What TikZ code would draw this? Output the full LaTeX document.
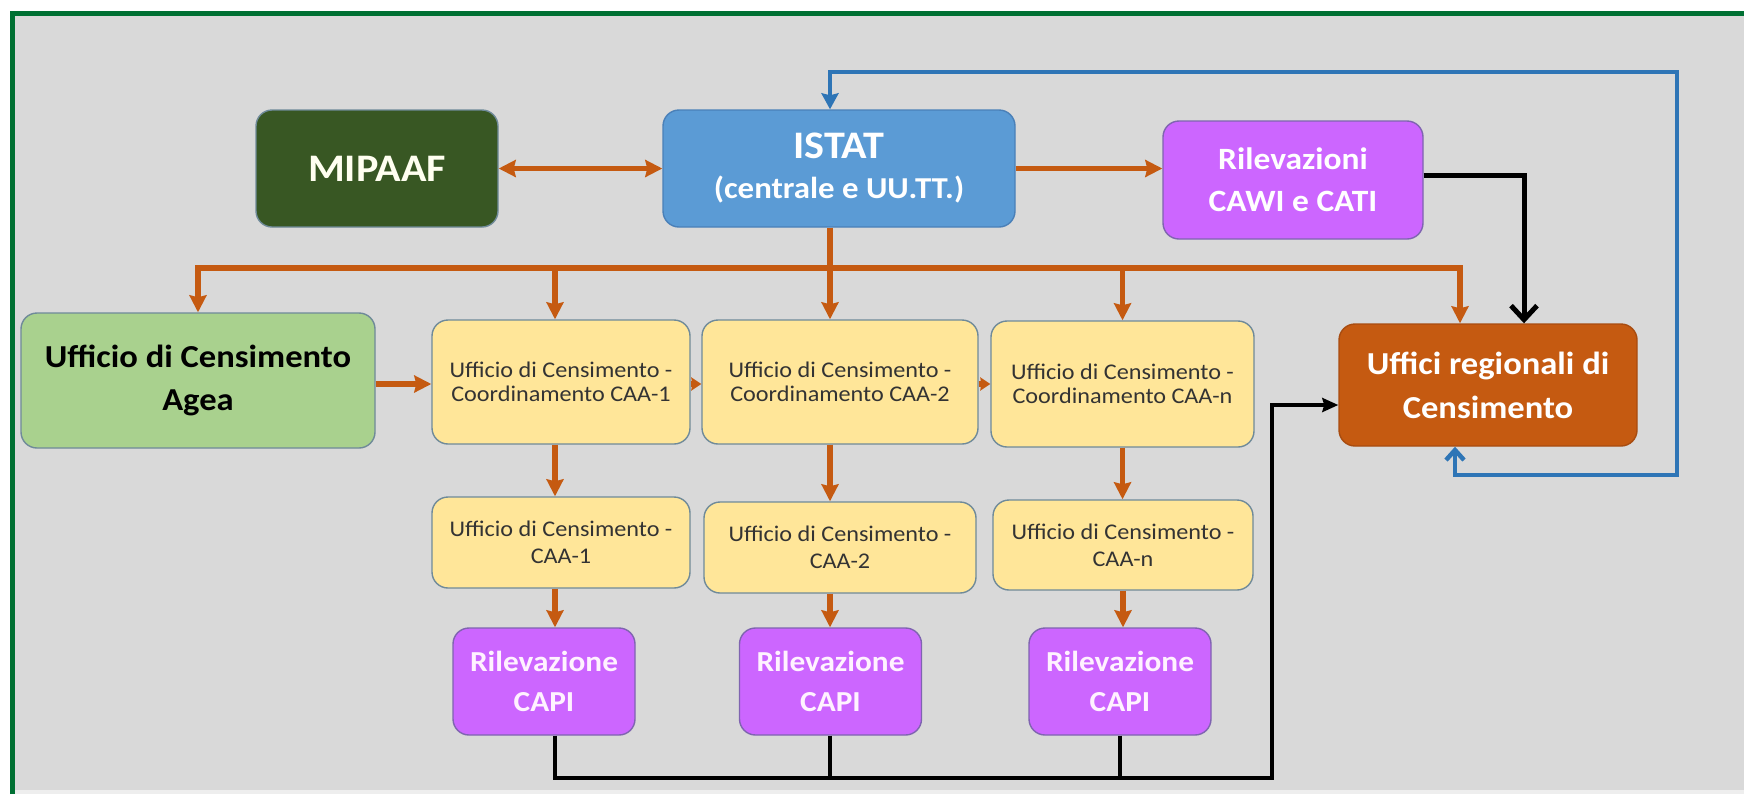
\documentclass[tikz,border=0pt]{standalone}
\usepackage{fontspec}
\setmainfont{Carlito}[FakeStretch=1.08]
\usetikzlibrary{arrows.meta}
\definecolor{bgc}{HTML}{D9D9D9}
\definecolor{frameg}{HTML}{007033}
\definecolor{mipc}{HTML}{385723}
\definecolor{istc}{HTML}{5B9BD5}
\definecolor{istb}{HTML}{4A80B8}
\definecolor{violc}{HTML}{CC66FF}
\definecolor{violb}{HTML}{7F64B0}
\definecolor{regc}{HTML}{C55A11}
\definecolor{regb}{HTML}{A84C10}
\definecolor{agc}{HTML}{A9D18E}
\definecolor{yelc}{HTML}{FFE699}
\definecolor{bordc}{HTML}{6F8A99}
\definecolor{orc}{HTML}{C55A11}
\definecolor{bluel}{HTML}{2E75B6}
\definecolor{txtg}{HTML}{333333}
\definecolor{cream}{HTML}{FFFFF0}
\definecolor{pinkw}{HTML}{FFF2FF}
\begin{document}
\begin{tikzpicture}[x=0.5pt,y=-0.5pt,
  box/.style={rounded corners=8pt, draw=bordc, line width=0.7pt, align=center, inner sep=0pt},
  mipbox/.style={box, fill=mipc, text=cream, font=\fontsize{19.5}{22}\selectfont\bfseries},
  istbox/.style={box, fill=istc, draw=istb, text=white, font=\fontsize{15.2}{20}\selectfont\bfseries},
  violbox/.style={box, fill=violc, draw=violb, text=white, font=\fontsize{15.5}{21}\selectfont\bfseries},
  capibox/.style={box, fill=violc, draw=violb, text=pinkw, font=\fontsize{14.5}{20}\selectfont\bfseries, minimum width=91pt, minimum height=53.5pt},
  regbox/.style={box, fill=regc, draw=regb, text=white, font=\fontsize{16}{22}\selectfont\bfseries},
  agbox/.style={box, fill=agc, text=black, font=\fontsize{16}{21.5}\selectfont\bfseries},
  coordbox/.style={box, fill=yelc, text=txtg, font=\fontsize{11.2}{11.8}\selectfont},
  caabox/.style={box, fill=yelc, text=txtg, font=\fontsize{11.2}{13.5}\selectfont},
  oline/.style={draw=orc, line width=2.75pt},
  oarr/.style={oline, -{Stealth[length=8.5pt,width=8.5pt,inset=1pt]}},
  osmall/.style={oline, -{Stealth[length=5pt,width=6.5pt,inset=0.5pt]}},
  bline/.style={draw=bluel, line width=2.25pt},
  kline/.style={draw=black, line width=2.5pt},
  kthin/.style={draw=black, line width=1.75pt}
]
\useasboundingbox (0,0) rectangle (1744,794);
% background and frame
\fill[white] (0,0) rectangle (1744,794);
\fill[bgc] (15,16) rectangle (1744,790);
\fill[bgc!45!white] (15,790) rectangle (1744,794);
\draw[frameg, line width=2.75pt] (12.5,794) -- (12.5,13.5) -- (1744,13.5);

% nodes
\node[mipbox, minimum width=121pt, minimum height=58.5pt] (mipaaf) at (377,168.5) {MIPAAF};
\node[istbox, minimum width=176pt, minimum height=58.5pt] (istat) at (839,168.5)
  {{\fontsize{19.5}{20}\selectfont ISTAT}\\(centrale e UU.TT.)};
\node[violbox, minimum width=130pt, minimum height=59pt] (cawi) at (1293,180) {Rilevazioni\\CAWI e CATI};
\node[agbox, minimum width=177pt, minimum height=67.5pt] (agea) at (198,380.5) {Ufficio di Censimento\\Agea};
\node[coordbox, minimum width=129pt, minimum height=62pt] (c1) at (561,382) {Ufficio di Censimento -\\Coordinamento CAA-1};
\node[coordbox, minimum width=138pt, minimum height=62pt] (c2) at (840,382) {Ufficio di Censimento -\\Coordinamento CAA-2};
\node[coordbox, minimum width=131.5pt, minimum height=63pt] (cn) at (1122.5,384) {Ufficio di Censimento -\\Coordinamento CAA-n};
\node[regbox, minimum width=149pt, minimum height=61pt] (reg) at (1488,385) {Uffici regionali di\\Censimento};
\node[caabox, minimum width=129pt, minimum height=45.5pt] (a1) at (561,542.5) {Ufficio di Censimento -\\CAA-1};
\node[caabox, minimum width=136pt, minimum height=45.5pt] (a2) at (840,547.5) {Ufficio di Censimento -\\CAA-2};
\node[caabox, minimum width=130pt, minimum height=45pt] (an) at (1123,545) {Ufficio di Censimento -\\CAA-n};
\node[capibox] (p1) at (544,681.5) {Rilevazione\\CAPI};
\node[capibox] (p2) at (830.5,681.5) {Rilevazione\\CAPI};
\node[capibox] (pn) at (1120,681.5) {Rilevazione\\CAPI};

% helper coordinates
\coordinate (col1) at (555,0);
\coordinate (colb) at (830,0);
\coordinate (col5) at (1460,0);
\coordinate (bus) at (0,268);
\coordinate (hy) at (0,384);
\coordinate (btop) at (1677,72);
\coordinate (bbot) at (1455,475);
\coordinate (kx) at (1524,175);
\coordinate (kb) at (1272,778);
\coordinate (kr) at (1272,405);

% orange connectors
\draw[oline, {Stealth[length=8.5pt,width=8.5pt,inset=1pt]}-{Stealth[length=8.5pt,width=8.5pt,inset=1pt]}]
  (mipaaf.east) -- (istat.west);
\draw[oarr] (istat.east) -- (istat.east -| cawi.west);
\draw[oline, {Stealth[length=8.5pt,width=8.5pt,inset=1pt]}-{Stealth[length=8.5pt,width=8.5pt,inset=1pt]}]
  (agea.north) -- (agea.north |- bus) -- (col5 |- bus) -- (col5 |- reg.north);
\draw[oarr] (istat.south -| colb) -- (c2.north -| colb);
\draw[oarr] (col1 |- bus) -- (c1.north -| col1);
\draw[oarr] (cn.north |- bus) -- (cn.north);
\draw[oarr] (agea.east |- hy) -- (c1.west |- hy);
\draw[osmall] (c1.east |- hy) -- (c2.west |- hy);
\draw[osmall] (c2.east |- hy) -- (cn.west |- hy);
\draw[oarr] (c1.south -| col1) -- (a1.north -| col1);
\draw[oarr] (a1.south -| col1) -- (p1.north -| col1);
\draw[oarr] (c2.south -| colb) -- (a2.north -| colb);
\draw[oarr] (a2.south -| colb) -- (p2.north -| colb);
\draw[oarr] (cn.south) -- (cn.south |- an.north);
\draw[oarr] (an.south) -- (an.south |- pn.north);

% blue loop
\draw[bline, {Stealth[length=8pt,width=8.5pt,inset=1pt]}-{Straight Barb[length=5pt,width=9pt]}]
  (istat.north -| colb) -- (colb |- btop) -- (btop) -- (btop |- bbot) -- (bbot) -- (bbot |- reg.south);

% black connectors
\draw[kline, -{Straight Barb[length=7pt,width=13pt]}] (cawi.east |- kx) -- (kx) -- (kx |- reg.north);
\draw[kthin, -{Stealth[length=8pt,width=7pt,inset=1pt]}]
  (p1.south -| col1) -- (col1 |- kb) -- (kb) -- (kr) -- (kr -| reg.west);
\draw[kthin] (p2.south -| colb) -- (colb |- kb);
\draw[kthin] (pn.south) -- (pn.south |- kb);
\end{tikzpicture}
\end{document}
